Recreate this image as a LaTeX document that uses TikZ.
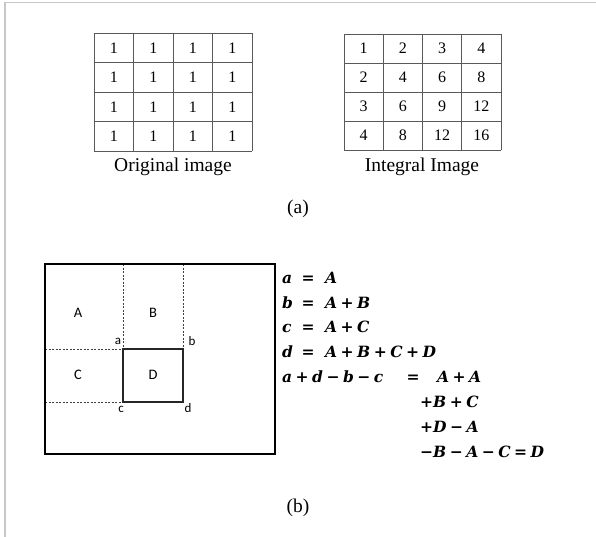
\documentclass[tikz,border=0pt]{standalone}
\usepackage{fontspec}
\setmainfont{Liberation Serif}
\newfontfamily\labelfont{Carlito}
\newfontfamily\eqtext{DejaVu Serif}
% binary operator with fixed side spacing, upright
\newcommand\op[1]{\hspace{3.5pt}{\upshape #1}\hspace{3.5pt}}
\newcommand\un[1]{{\upshape #1}}
\tikzset{
  frame/.style={draw=black!22, line width=1.8pt},
  cellline/.style={draw=black!65, line width=0.8pt},
  cell/.style={font=\fontsize{16}{19}\selectfont, inner sep=0pt},
  caption/.style={font=\fontsize{19.5}{23}\selectfont, inner sep=0pt, anchor=base},
  outerbox/.style={draw=black, line width=1.4pt},
  regionbox/.style={draw=black!85, line width=1.4pt},
  guide/.style={draw=black!75, line width=0.7pt, dash pattern=on 2pt off 1.5pt},
  region/.style={font=\labelfont\fontsize{14.5}{17}\selectfont, inner sep=0pt},
  corner/.style={font=\labelfont\fontsize{13}{15}\selectfont, inner sep=0pt},
  eqfont/.style={font=\eqtext\bfseries\itshape\fontsize{15.5}{18}\selectfont, inner sep=0pt},
  eqleft/.style={eqfont, anchor=base west},
  eqmid/.style={eqfont, anchor=base}
}
\begin{document}
\begin{tikzpicture}[x=1pt,y=-1pt]
\useasboundingbox (0,0) rectangle (596,537);
% page frame
\draw[frame] (5,537) -- (5,2.5) -- (596,2.5);

% original image: 4x4 grid of ones
\foreach \i in {0,...,4} {
  \draw[cellline] ({94+39.5*\i},33) -- ({94+39.5*\i},151);
  \draw[cellline] (94,{33+29.5*\i}) -- (252,{33+29.5*\i});
}
\foreach \r in {1,...,4} {
  \foreach \c in {1,...,4} {
    \node[cell] (o\r\c) at ({94+39.5*(\c-0.5)},{33+29.5*(\r-0.5)}) {1};
  }
}
\node[caption] (origcap) at (173,172) {Original image};

% integral image: running sums
\foreach \i in {0,...,4} {
  \draw[cellline] ({344+39.25*\i},34) -- ({344+39.25*\i},150);
  \draw[cellline] (344,{34+29*\i}) -- (501,{34+29*\i});
}
\foreach \r in {1,...,4} {
  \foreach \c in {1,...,4} {
    \pgfmathtruncatemacro{\v}{\r*\c}
    \node[cell] (s\r\c) at ({344+39.25*(\c-0.5)},{34+29*(\r-0.5)}) {\v};
  }
}
\node[caption] (intcap) at (422,172) {Integral Image};

\node[caption] (capa) at (298,214) {(a)};

% region sum figure
\draw[guide] (123,264) -- (123,349);
\draw[guide] (183,264) -- (183,349);
\draw[guide] (45,349) -- (123,349);
\draw[guide] (45,402) -- (123,402);
\draw[regionbox] (123,349) rectangle (183,402);
\draw[outerbox] (45,264) rectangle (275,454);
\node[region] (rA) at (78,313) {A};
\node[region] (rB) at (153,313) {B};
\node[region] (rC) at (78,375) {C};
\node[region] (rD) at (153,375) {D};
\node[corner] (ca) at (118,341) {a};
\node[corner] (cb) at (192,341) {b};
\node[corner] (cc) at (121,409) {c};
\node[corner] (cd) at (188,408) {d};

% equations
\node[eqleft] (l1) at (282,283.3) {a};
\node[eqmid]  (q1) at (308,283.3) {\un{=}};
\node[eqleft] (r1) at (325,283.3) {A};
\node[eqleft] (l2) at (282,308) {b};
\node[eqmid]  (q2) at (308,308) {\un{=}};
\node[eqleft] (r2) at (325,308) {A\op{+}B};
\node[eqleft] (l3) at (282,332.8) {c};
\node[eqmid]  (q3) at (308,332.8) {\un{=}};
\node[eqleft] (r3) at (325,332.8) {A\op{+}C};
\node[eqleft] (l4) at (282,357.5) {d};
\node[eqmid]  (q4) at (308,357.5) {\un{=}};
\node[eqleft] (r4) at (325,357.5) {A\op{+}B\op{+}C\op{+}D};
\node[eqleft] (l5) at (282,382.3) {a\op{+}d\op{−}b\op{−}c};
\node[eqmid]  (q5) at (413,382.3) {\un{=}};
\node[eqleft] (r5) at (437,382.3) {A\op{+}A};
\node[eqleft] (r6) at (420,407) {\un{+}B\op{+}C};
\node[eqleft] (r7) at (420,432) {\un{+}D\op{−}A};
\node[eqleft] (r8) at (420,457) {\un{−}B\op{−}A\op{−}C\op{=}D};

\node[caption] (capb) at (298,512.5) {(b)};
\end{tikzpicture}
\end{document}
